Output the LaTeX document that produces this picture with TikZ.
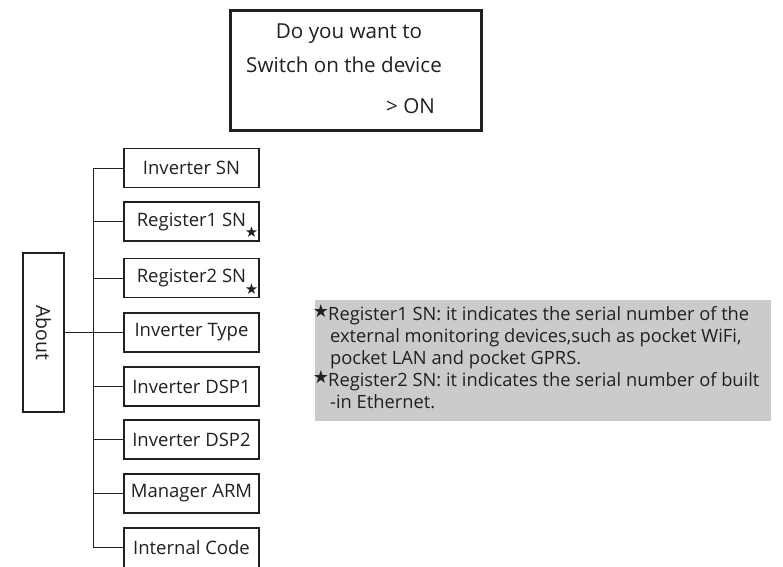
\documentclass[tikz,border=0pt]{standalone}
\usepackage{fontspec}
\setmainfont{Open Sans}
\newfontfamily\symf{DejaVu Sans}
\definecolor{ink}{HTML}{231F20}
\definecolor{notegray}{HTML}{CBCBCB}
\begin{document}
\begin{tikzpicture}[x=1pt,y=-1pt,
  every node/.style={text=ink},
  menubox/.style={draw=ink,line width=1.2pt,minimum width=135pt,minimum height=39pt,inner sep=0pt,font=\fontsize{18.5}{20}\selectfont},
  conn/.style={draw=ink,line width=1pt},
  txt/.style={inner sep=0pt,anchor=base},
  notetxt/.style={inner sep=0pt,anchor=base west,font=\fontsize{18.3}{20}\selectfont},
  starmark/.style={inner sep=0pt,font=\symf\fontsize{15}{15}\selectfont}]
\useasboundingbox (0,0) rectangle (783,566);
\clip (0,0) rectangle (783,566);
% top dialog
\node[draw=ink,line width=2.6pt,minimum width=251pt,minimum height=120pt,inner sep=0pt] (dlg) at (356,70.5) {};
\node[txt,font=\fontsize{20.6}{22}\selectfont] (l1) at (349,38) {Do you want to};
\node[txt,font=\fontsize{20.6}{22}\selectfont] (l2) at (344,72) {Switch on the device};
\node[txt,anchor=base west,font=\fontsize{20.6}{22}\selectfont] (l3) at (386,113) {> ON};
% about
\node[draw=ink,line width=1.2pt,minimum width=41pt,minimum height=159pt,inner sep=0pt] (about) at (43.5,332.5) {};
\node[inner sep=0pt,rotate=-90,font=\fontsize{19.5}{20}\selectfont] (abt) at (about.center) {About};
% menu boxes
\node[menubox] (b1) at (191.5,168) {Inverter SN};
\node[menubox] (b2) at (191.5,221.5) {Register1 SN};
\node[menubox] (b3) at (191.5,278) {Register2 SN};
\node[menubox] (b4) at (191.5,332.5) {Inverter Type};
\node[menubox] (b5) at (191.5,386.5) {Inverter DSP1};
\node[menubox] (b6) at (191.5,439.5) {Inverter DSP2};
\node[menubox] (b7) at (191.5,493.5) {Manager ARM};
\node[menubox,minimum height=41pt] (b8) at (191.5,548.5) {};
\node[inner sep=0pt,font=\fontsize{18.5}{20}\selectfont] (b8t) at (191.5,547.5) {Internal Code};
\node[starmark] (s1) at (251.5,232) {★};
\node[starmark] (s2) at (251.5,289) {★};
% connectors
\coordinate (ttop) at (93,168);
\coordinate (tbot) at (93,547.5);
\draw[conn] (b1.west) -- (ttop) -- (tbot) -- (b8t.west -| b8.west);
\draw[conn] (about.east) -- (b4.west);
\foreach \b in {b2,b3,b5,b6,b7} \draw[conn] (\b.west) -- (\b.west -| ttop);
% note
\fill[notegray] (315,300) rectangle (771,421);
\node[starmark,font=\symf\fontsize{18}{18}\selectfont] (n1) at (321,311) {★};
\node[notetxt] (t1) at (328,320) {Register1 SN: it indicates the serial number of the};
\node[notetxt] (t2) at (330,342) {external monitoring devices,such as pocket WiFi,};
\node[notetxt] (t3) at (330,364) {pocket LAN and pocket GPRS.};
\node[starmark,font=\symf\fontsize{18}{18}\selectfont] (n2) at (321,377) {★};
\node[notetxt] (t4) at (328,386) {Register2 SN: it indicates the serial number of built};
\node[notetxt] (t5) at (330,408) {-in Ethernet.};
\end{tikzpicture}
\end{document}
